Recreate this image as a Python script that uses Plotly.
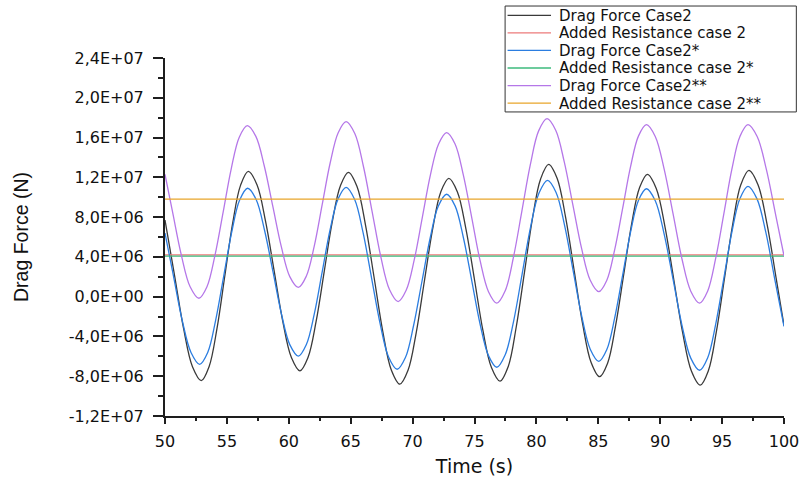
import plotly.graph_objects as go

# ---------------- data (force values in units of 1e6 N) ----------------
time_case2 = [50, 50.79, 51.5, 52.22, 52.93,
              53.56, 54.2, 54.83, 55.46, 56.1, 56.73,
              57.43, 58.12, 58.82, 59.51, 60.21, 60.9,
              61.55, 62.21, 62.86, 63.51, 64.17, 64.82,
              65.51, 66.2, 66.9, 67.59, 68.28, 68.97,
              69.63, 70.29, 70.95, 71.61, 72.27, 72.93,
              73.62, 74.31, 75.0, 75.68, 76.37, 77.06,
              77.72, 78.37, 79.03, 79.68, 80.34, 80.99,
              81.68, 82.36, 83.05, 83.73, 84.42, 85.1,
              85.75, 86.39, 87.04, 87.68, 88.33, 88.97,
              89.68, 90.39, 91.1, 91.81, 92.52, 93.23,
              93.89, 94.54, 95.2, 95.86, 96.51, 97.17,
              97.9, 98.63, 99.36, 100]
drag_case2 = [7.7, 2.0, -3.2, -7.05, -8.45,
              -7.04, -3.19, 2.08, 7.34, 11.19, 12.6,
              11.26, 7.59, 2.57, -2.45, -6.12, -7.46,
              -6.12, -2.47, 2.52, 7.51, 11.16, 12.5,
              11.07, 7.18, 1.85, -3.48, -7.37, -8.8,
              -7.41, -3.63, 1.55, 6.73, 10.51, 11.9,
              10.53, 6.8, 1.7, -3.4, -7.13, -8.5,
              -7.04, -3.05, 2.4, 7.85, 11.84, 13.3,
              11.88, 7.97, 2.63, -2.71, -6.62, -8.05,
              -6.69, -2.96, 2.13, 7.22, 10.95, 12.3,
              10.88, 7.0, 1.7, -3.6, -7.48, -8.9,
              -7.45, -3.5, 1.9, 7.3, 11.25, 12.7,
              11.25, 7.3, 1.9, -2.9]

time_case2s = [50, 50.69, 51.39, 52.1, 52.8,
               53.45, 54.09, 54.74, 55.39, 56.03, 56.68,
               57.36, 58.04, 58.73, 59.41, 60.09, 60.77,
               61.41, 62.06, 62.7, 63.34, 63.99, 64.63,
               65.32, 66.0, 66.69, 67.38, 68.06, 68.75,
               69.42, 70.08, 70.75, 71.42, 72.08, 72.75,
               73.43, 74.1, 74.78, 75.45, 76.13, 76.8,
               77.48, 78.17, 78.85, 79.53, 80.22, 80.9,
               81.59, 82.28, 82.97, 83.66, 84.35, 85.04,
               85.68, 86.32, 86.97, 87.61, 88.25, 88.89,
               89.6, 90.32, 91.04, 91.75, 92.47, 93.18,
               93.83, 94.48, 95.14, 95.79, 96.44, 97.09,
               97.81, 98.53, 99.24, 100]
drag_case2s = [6.4, 2.05, -2.38, -5.61, -6.8,
               -5.61, -2.38, 2.05, 6.48, 9.71, 10.9,
               9.77, 6.68, 2.46, -1.76, -4.85, -5.98,
               -4.84, -1.74, 2.51, 6.76, 9.86, 11.0,
               9.77, 6.43, 1.85, -2.73, -6.07, -7.3,
               -6.12, -2.9, 1.5, 5.9, 9.12, 10.3,
               9.13, 5.95, 1.6, -2.75, -5.93, -7.1,
               -5.84, -2.4, 2.3, 7.0, 10.44, 11.7,
               10.48, 7.15, 2.6, -1.95, -5.28, -6.5,
               -5.34, -2.16, 2.18, 6.52, 9.7, 10.85,
               9.64, 6.29, 1.73, -2.83, -6.18, -7.4,
               -6.16, -2.78, 1.85, 6.48, 9.86, 11.1,
               9.86, 6.48, 1.85, -3.0]

time_case2ss = [50, 50.61, 51.32, 52.03, 52.74,
                53.39, 54.04, 54.7, 55.35, 56.0, 56.65,
                57.34, 58.02, 58.71, 59.4, 60.08, 60.77,
                61.41, 62.06, 62.7, 63.34, 63.99, 64.63,
                65.33, 66.03, 66.73, 67.43, 68.13, 68.83,
                69.48, 70.14, 70.79, 71.44, 72.1, 72.75,
                73.43, 74.1, 74.78, 75.45, 76.13, 76.8,
                77.48, 78.15, 78.83, 79.51, 80.18, 80.86,
                81.56, 82.25, 82.95, 83.65, 84.34, 85.04,
                85.68, 86.32, 86.97, 87.61, 88.25, 88.89,
                89.6, 90.32, 91.04, 91.75, 92.47, 93.18,
                93.83, 94.48, 95.14, 95.79, 96.44, 97.09,
                97.83, 98.57, 99.31, 100]
drag_case2ss = [12.3, 8.52, 4.18, 1.0, -0.16,
                1.0, 4.18, 8.52, 12.86, 16.04, 17.2,
                16.12, 13.14, 9.07, 5.0, 2.02, 0.93,
                2.05, 5.1, 9.27, 13.44, 16.49, 17.6,
                16.4, 13.09, 8.56, 4.03, 0.72, -0.49,
                0.64, 3.75, 8.0, 12.25, 15.36, 16.5,
                15.36, 12.22, 7.93, 3.64, 0.5, -0.65,
                0.59, 3.99, 8.63, 13.27, 16.67, 17.9,
                16.73, 13.55, 9.2, 4.85, 1.67, 0.5,
                1.63, 4.7, 8.9, 13.1, 16.17, 17.3,
                16.11, 12.82, 8.33, 3.84, 0.55, -0.65,
                0.55, 3.84, 8.33, 12.82, 16.11, 17.3,
                16.11, 12.82, 8.33, 4.1]

time_added = [50, 100]
added_case2 = [4.2, 4.2]
added_case2s = [4.08, 4.08]
added_case2ss = [9.8, 9.8]

series_names = ["Drag Force Case2", "Added Resistance case 2", "Drag Force Case2*",
                "Added Resistance case 2*", "Drag Force Case2**", "Added Resistance case 2**"]
series_colors = ["#3a3a3a", "#ec7a7a", "#2b7de0", "#3dba7c", "#b577e8", "#e8a52a"]

x_ticks = [50, 55, 60, 65, 70, 75, 80, 85, 90, 95, 100]
x_minor = [52.5, 57.5, 62.5, 67.5, 72.5, 77.5, 82.5, 87.5, 92.5, 97.5]
y_ticks = [-1.2e7, -8e6, -4e6, 0, 4e6, 8e6, 1.2e7, 1.6e7, 2.0e7, 2.4e7]
y_ticktext = ["-1,2E+07", "-8,0E+06", "-4,0E+06", "0,0E+00", "4,0E+06", "8,0E+06",
              "1,2E+07", "1,6E+07", "2,0E+07", "2,4E+07"]
y_minor = [-1.0e7, -6e6, -2e6, 2e6, 6e6, 1.0e7, 1.4e7, 1.8e7, 2.2e7]

MEGA = 1e6
xs = [time_case2, time_added, time_case2s, time_added, time_case2ss, time_added]
ys = [drag_case2, added_case2, drag_case2s, added_case2s, drag_case2ss, added_case2ss]

fig = go.Figure()
for name, color, x, y in zip(series_names, series_colors, xs, ys):
    fig.add_trace(go.Scatter(
        x=x, y=[v * MEGA for v in y], name=name, mode="lines",
        line=dict(color=color, width=1.3, shape="spline", smoothing=1.0),
        showlegend=False))

axis_color = "#1e1e1e"
fig.update_xaxes(
    range=[50, 100], tickmode="array", tickvals=x_ticks, ticktext=[str(v) for v in x_ticks],
    showgrid=False, zeroline=False, showline=True, linecolor=axis_color, linewidth=2,
    ticks="outside", ticklen=6, tickwidth=1.5, tickcolor=axis_color, ticklabelstandoff=4,
    minor=dict(tickmode="array", tickvals=x_minor, ticks="outside", ticklen=3, tickwidth=1.5,
               tickcolor=axis_color, showgrid=False),
    tickfont=dict(family="DejaVu Sans", size=16, color="#111"),
    title=dict(text="Time (s)", font=dict(family="DejaVu Sans", size=19, color="#111"), standoff=9),
)
fig.update_yaxes(
    range=[-1.2e7, 2.4e7], tickmode="array", tickvals=y_ticks, ticktext=y_ticktext,
    showgrid=False, zeroline=False, showline=True, linecolor=axis_color, linewidth=2,
    ticks="outside", ticklen=10, tickwidth=1.5, tickcolor=axis_color, ticklabelstandoff=6,
    minor=dict(tickmode="array", tickvals=y_minor, ticks="outside", ticklen=5, tickwidth=1.5,
               tickcolor=axis_color, showgrid=False),
    tickfont=dict(family="DejaVu Sans", size=16, color="#111"),
    title=dict(text="Drag Force (N)", font=dict(family="Liberation Sans, Arial", size=19.5, color="#111"),
               standoff=35),
)

# ---- legend box (drawn in paper coordinates, top-right, overlapping the axes area) ----
plot_l, plot_r, plot_t, plot_b = 165, 792, 58, 423
pw, ph = plot_r - plot_l, plot_b - plot_t

def px_x(p):
    return (p - plot_l) / pw

def px_y(p):
    return (plot_b - p) / ph

fig.add_shape(type="rect", xref="paper", yref="paper",
              x0=px_x(509.5), x1=px_x(804.5), y0=px_y(113), y1=px_y(5),
              line=dict(color="#333333", width=1), fillcolor="white", layer="above")
for i, (name, color) in enumerate(zip(series_names, series_colors)):
    cy = 14.5 + i * 17.9
    fig.add_shape(type="line", xref="paper", yref="paper",
                  x0=px_x(512), x1=px_x(556), y0=px_y(cy), y1=px_y(cy),
                  line=dict(color=color, width=1.3), layer="above")
    fig.add_annotation(xref="paper", yref="paper", x=px_x(563), y=px_y(cy + 0.5),
                       xanchor="left", yanchor="middle", showarrow=False, text=name,
                       borderpad=0,
                       font=dict(family="DejaVu Sans", size=15, color="#111"))

fig.update_layout(
    width=811, height=486, autosize=False,
    margin=dict(l=plot_l, r=811 - plot_r, t=plot_t, b=486 - plot_b),
    plot_bgcolor="white", paper_bgcolor="white", showlegend=False,
)

fig.write_html("out.html")
